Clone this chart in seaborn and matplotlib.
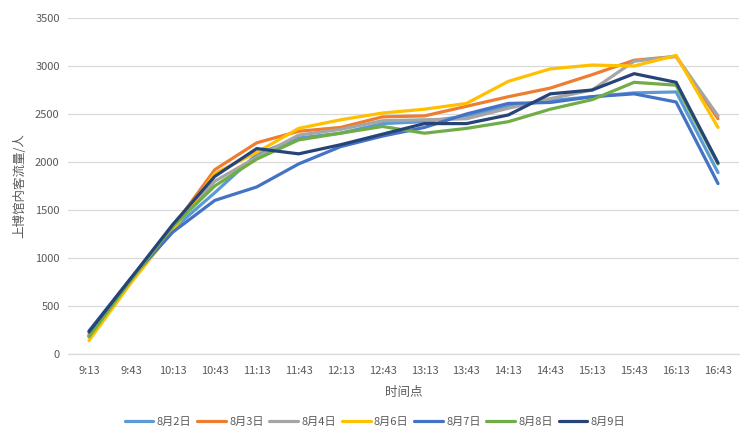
import matplotlib
matplotlib.use("Agg")
import matplotlib.pyplot as plt
import seaborn as sns
import pandas as pd
import numpy as np

times = ["9:13", "9:43", "10:13", "10:43", "11:13", "11:43", "12:13", "12:43",
         "13:13", "13:43", "14:13", "14:43", "15:13", "15:43", "16:13", "16:43"]

aug2 = [200, 770, 1300, 1680, 2080, 2250, 2300, 2400, 2420, 2480, 2580, 2640, 2680, 2720, 2730, 1890]
aug3 = [190, 760, 1320, 1920, 2200, 2320, 2360, 2470, 2480, 2580, 2680, 2770, 2910, 3060, 3100, 2450]
aug4 = [180, 760, 1310, 1800, 2050, 2280, 2340, 2430, 2440, 2450, 2560, 2660, 2750, 3050, 3100, 2480]
aug6 = [140, 740, 1290, 1880, 2100, 2350, 2440, 2510, 2550, 2610, 2840, 2970, 3010, 3000, 3110, 2360]
aug7 = [240, 790, 1270, 1600, 1740, 1980, 2160, 2270, 2360, 2500, 2610, 2620, 2680, 2710, 2625, 1775]
aug8 = [180, 770, 1330, 1750, 2030, 2230, 2300, 2370, 2300, 2350, 2420, 2550, 2650, 2830, 2800, 1980]
aug9 = [230, 790, 1350, 1850, 2140, 2085, 2180, 2290, 2400, 2400, 2490, 2710, 2750, 2920, 2830, 1990]

series_names = ["8月2日", "8月3日", "8月4日", "8月6日", "8月7日", "8月8日", "8月9日"]
series_values = [aug2, aug3, aug4, aug6, aug7, aug8, aug9]
colors = ["#5B9BD5", "#ED7D31", "#A5A5A5", "#FFC000", "#4472C4", "#70AD47", "#264478"]

rows = []
for name, vals in zip(series_names, series_values):
    for i, (t, v) in enumerate(zip(times, vals)):
        rows.append({"idx": i, "time": t, "date": name, "flow": v})
df = pd.DataFrame(rows)

sns.set_theme(style="white")
plt.rcParams["font.family"] = ["Noto Sans CJK SC", "DejaVu Sans"]

fig = plt.figure(figsize=(7.5, 4.37), dpi=100)
ax = fig.add_axes([68 / 750, 1 - 354 / 437, (739 - 68) / 750, (354 - 18) / 437])

sns.lineplot(data=df, x="idx", y="flow", hue="date", hue_order=series_names,
             palette=colors, linewidth=2.3, ax=ax, legend=True, sort=False)

text_color = "#595959"
ax.set_xlim(-0.5, len(times) - 0.5)
ax.set_ylim(0, 3500)
ax.set_yticks(np.arange(0, 3501, 500))
ax.set_yticklabels([str(v) for v in range(0, 3501, 500)], fontsize=8, color=text_color)
ax.set_xticks(range(len(times)))
ax.set_xticklabels(times, fontsize=8, color=text_color)
ax.set_xticks(np.arange(-0.5, len(times), 1), minor=True)
ax.tick_params(axis="x", which="major", length=0, pad=9)
ax.tick_params(axis="x", which="minor", length=4, color="#D9D9D9", width=0.8)
ax.tick_params(axis="y", length=0, pad=6)
ax.grid(axis="y", color="#D9D9D9", linewidth=0.9)
ax.set_axisbelow(True)
for s in ["top", "right", "left"]:
    ax.spines[s].set_visible(False)
ax.spines["bottom"].set_color("#D9D9D9")
ax.spines["bottom"].set_linewidth(0.9)

ax.set_xlabel("时间点", fontsize=9, color=text_color, labelpad=7)
ax.set_ylabel("上博馆内客流量/人", fontsize=9, color=text_color, labelpad=6)

handles, labels = ax.get_legend_handles_labels()
ax.legend_.remove()
fig.legend(handles, labels, loc="center", bbox_to_anchor=(0.5, 1 - 422 / 437), ncol=7,
           frameon=False, fontsize=8, handlelength=2.6, columnspacing=0.5,
           handletextpad=0.3, labelcolor=text_color)

fig.savefig("out.png", dpi=100)
